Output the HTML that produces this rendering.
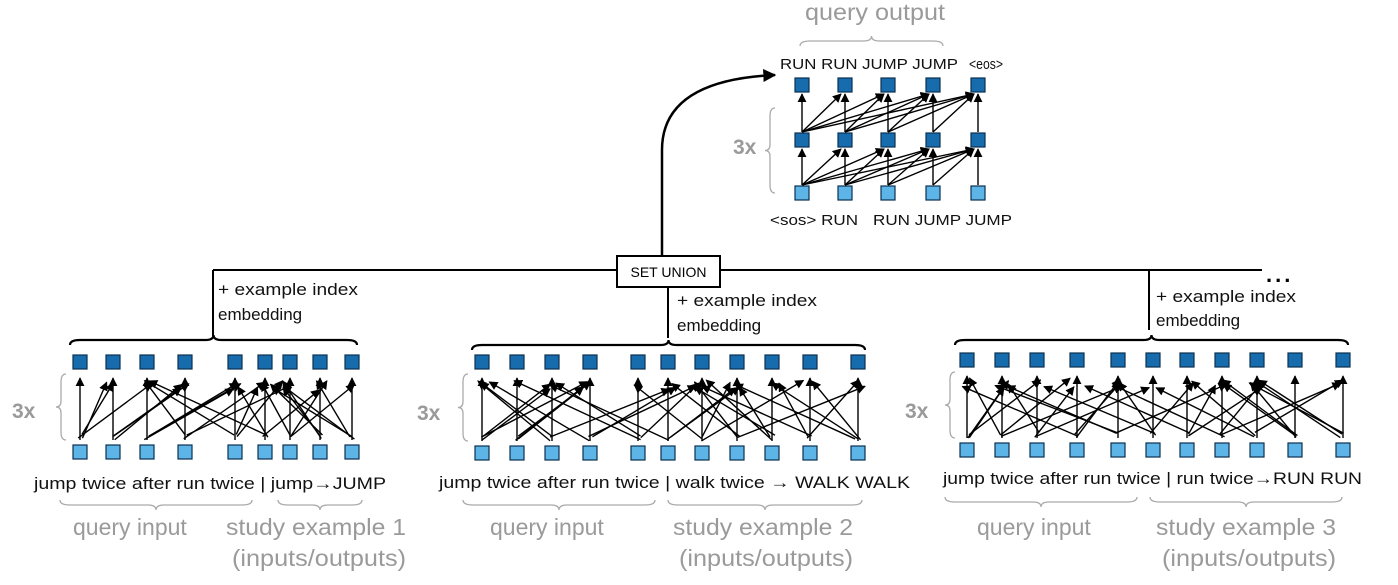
<!DOCTYPE html>
<html><head><meta charset="utf-8"><style>
html,body{margin:0;padding:0;background:#fff;}
svg{display:block;font-family:"Liberation Sans",Arial,sans-serif;}
</style></head><body>
<svg id="s" width="1398" height="585" viewBox="0 0 1398 585" xmlns="http://www.w3.org/2000/svg">
<defs>
<marker id="ah" viewBox="0 0 10 10" refX="9" refY="5" markerWidth="9" markerHeight="9" orient="auto-start-reverse" markerUnits="userSpaceOnUse"><path d="M0,0 L10,5 L0,10 z" fill="#000"/></marker>
<marker id="ah2" viewBox="0 0 10 10" refX="9" refY="5" markerWidth="13" markerHeight="13" orient="auto" markerUnits="userSpaceOnUse"><path d="M0,0 L10,5 L0,10 z" fill="#000"/></marker>
</defs>
<g id="g"></g>
<line x1="213" y1="270" x2="1262" y2="270" stroke="#000" stroke-width="2"/>
<line x1="213" y1="270" x2="213" y2="336" stroke="#000" stroke-width="2"/>
<line x1="668" y1="287" x2="668" y2="338" stroke="#000" stroke-width="2"/>
<line x1="1149" y1="270" x2="1149" y2="330" stroke="#000" stroke-width="2"/>
<rect x="617" y="256" width="103" height="31" fill="#fff" stroke="#000" stroke-width="2"/>
<text x="668.5" y="277" font-size="14" text-anchor="middle">SET UNION</text>
<text x="1266" y="282" font-size="22" font-weight="bold" letter-spacing="3">...</text>
<path d="M662,256 L662,150 Q662,80 775,75" fill="none" stroke="#000" stroke-width="2.5" marker-end="url(#ah2)"/>
<g font-size="17" fill="#111">
<text x="218" y="295" textLength="140" lengthAdjust="spacingAndGlyphs">+ example index</text><text x="218" y="320">embedding</text>
<text x="677" y="306" textLength="140" lengthAdjust="spacingAndGlyphs">+ example index</text><text x="677" y="331">embedding</text>
<text x="1156" y="302" textLength="140" lengthAdjust="spacingAndGlyphs">+ example index</text><text x="1156" y="326">embedding</text>
</g>
<g font-size="17" fill="#111">
<text x="34" y="489" textLength="352" lengthAdjust="spacingAndGlyphs">jump twice after run twice | jump→JUMP</text>
<text x="439" y="488" textLength="471" lengthAdjust="spacingAndGlyphs">jump twice after run twice | walk twice →  WALK WALK</text>
<text x="943" y="484" textLength="419" lengthAdjust="spacingAndGlyphs">jump twice after run twice | run twice→RUN RUN</text>
</g>
<g font-size="23" fill="#9a9a9a">
<text x="73" y="535">query input</text>
<text x="226" y="535" textLength="180" lengthAdjust="spacingAndGlyphs">study example 1</text><text x="232" y="566" textLength="174" lengthAdjust="spacingAndGlyphs">(inputs/outputs)</text>
<text x="490" y="535">query input</text>
<text x="673" y="535" textLength="180" lengthAdjust="spacingAndGlyphs">study example 2</text><text x="679" y="566" textLength="174" lengthAdjust="spacingAndGlyphs">(inputs/outputs)</text>
<text x="977" y="535">query input</text>
<text x="1156" y="535" textLength="180" lengthAdjust="spacingAndGlyphs">study example 3</text><text x="1162" y="566" textLength="174" lengthAdjust="spacingAndGlyphs">(inputs/outputs)</text>
<text x="805" y="20" textLength="140" lengthAdjust="spacingAndGlyphs">query output</text>
</g>
<g font-size="21" font-weight="bold" fill="#9a9a9a">
<text x="12" y="418">3x</text><text x="417" y="420">3x</text><text x="905" y="418">3x</text><text x="733" y="154">3x</text>
</g>
<g font-size="15" fill="#111">
<text x="780" y="69" textLength="178" lengthAdjust="spacingAndGlyphs">RUN RUN JUMP JUMP</text><text x="969" y="69" textLength="34" lengthAdjust="spacingAndGlyphs">&lt;eos&gt;</text>
<text x="770" y="225" textLength="88" lengthAdjust="spacingAndGlyphs">&lt;sos&gt; RUN</text><text x="873" y="225" textLength="139" lengthAdjust="spacingAndGlyphs">RUN JUMP JUMP</text>
</g>
</svg>
<script>
(function(){
var g=document.getElementById('g'),h='';
function sq(x,y,c){h+='<rect x="'+(x-7)+'" y="'+(y-7)+'" width="14" height="14" fill="'+c+'" stroke="#0b2f4f" stroke-width="1.2"/>';}
function ar(x1,y1,x2,y2){h+='<line x1="'+x1+'" y1="'+y1+'" x2="'+x2+'" y2="'+y2+'" stroke="#000" stroke-width="1.4" marker-end="url(#ah)"/>';}
function brace(x1,x2,y,up,col,w){var m=(x1+x2)/2,d=up?-1:1;
h+='<path d="M'+x1+','+(y)+' Q'+x1+','+(y+5*d)+' '+(x1+10)+','+(y+5*d)+' L'+(m-8)+','+(y+5*d)+' Q'+m+','+(y+5*d)+' '+m+','+(y+10*d)+' Q'+m+','+(y+5*d)+' '+(m+8)+','+(y+5*d)+' L'+(x2-10)+','+(y+5*d)+' Q'+x2+','+(y+5*d)+' '+x2+','+y+'" fill="none" stroke="'+col+'" stroke-width="'+w+'"/>';}
function vbrace(x,y1,y2){var m=(y1+y2)/2;
h+='<path d="M'+(x+5)+','+y1+' Q'+x+','+y1+' '+x+','+(y1+8)+' L'+x+','+(m-6)+' Q'+x+','+m+' '+(x-5)+','+m+' Q'+x+','+m+' '+x+','+(m+6)+' L'+x+','+(y2-8)+' Q'+x+','+y2+' '+(x+5)+','+y2+'" fill="none" stroke="#aaa" stroke-width="1.3"/>';}
var encs=[
 {xs:[80,113,147,185,235,265,290,320,352],t:362,b:452,bx:70,bx2:357,by:345,vb:53},
 {xs:[482,517,552,590,638,668,702,737,772,810,858],t:362,b:453,bx:472,bx2:865,by:350,vb:455},
 {xs:[967,1002,1037,1077,1118,1153,1187,1222,1257,1295,1343],t:360,b:450,bx:955,bx2:1348,by:345,vb:942}];
var seed=11;function rnd(){seed=(seed*9301+49297)%233280;return seed/233280;}
encs.forEach(function(e){
 var n=e.xs.length;
 for(var i=0;i<n;i++){
  ar(e.xs[i],e.b-12,e.xs[i],e.t+16);
  for(var k=0;k<3;k++){var off=Math.floor(rnd()*7)-3;if(off==0)off=2;var j=i+off;if(j<0)j=i+2;if(j>=n)j=i-2;
   ar(e.xs[i]+(rnd()*6-3),e.b-12-rnd()*6,e.xs[j]+(rnd()*16-8),e.t+18+rnd()*10);}
 }
 e.xs.forEach(function(x){sq(x,e.t,'#176cae');sq(x,e.b,'#5db4e6');});
 brace(e.bx,e.bx2,e.by,true,'#000',2.2);
 vbrace(e.vb+8,e.t+12,e.b-12);
});
brace(60,252,500,false,'#aaa',1.3);brace(278,362,500,false,'#aaa',1.3);
brace(463,655,500,false,'#aaa',1.3);brace(668,862,500,false,'#aaa',1.3);
brace(945,1137,497,false,'#aaa',1.3);brace(1150,1342,497,false,'#aaa',1.3);
brace(800,943,46,true,'#aaa',1.3);
vbrace(770,108,193);
var dx=[802,845,888,933,978],ty=85,my=140,by=193;
for(var i=0;i<5;i++)for(var j=i;j<5;j++){
 ar(dx[i],by-8,dx[j]-(j>i?4:0),my+9);
 ar(dx[i],my-8,dx[j]-(j>i?4:0),ty+9);
}
dx.forEach(function(x){sq(x,ty,'#176cae');sq(x,my,'#176cae');sq(x,by,'#5db4e6');});
g.innerHTML=h;
})();
</script>
</body></html>
